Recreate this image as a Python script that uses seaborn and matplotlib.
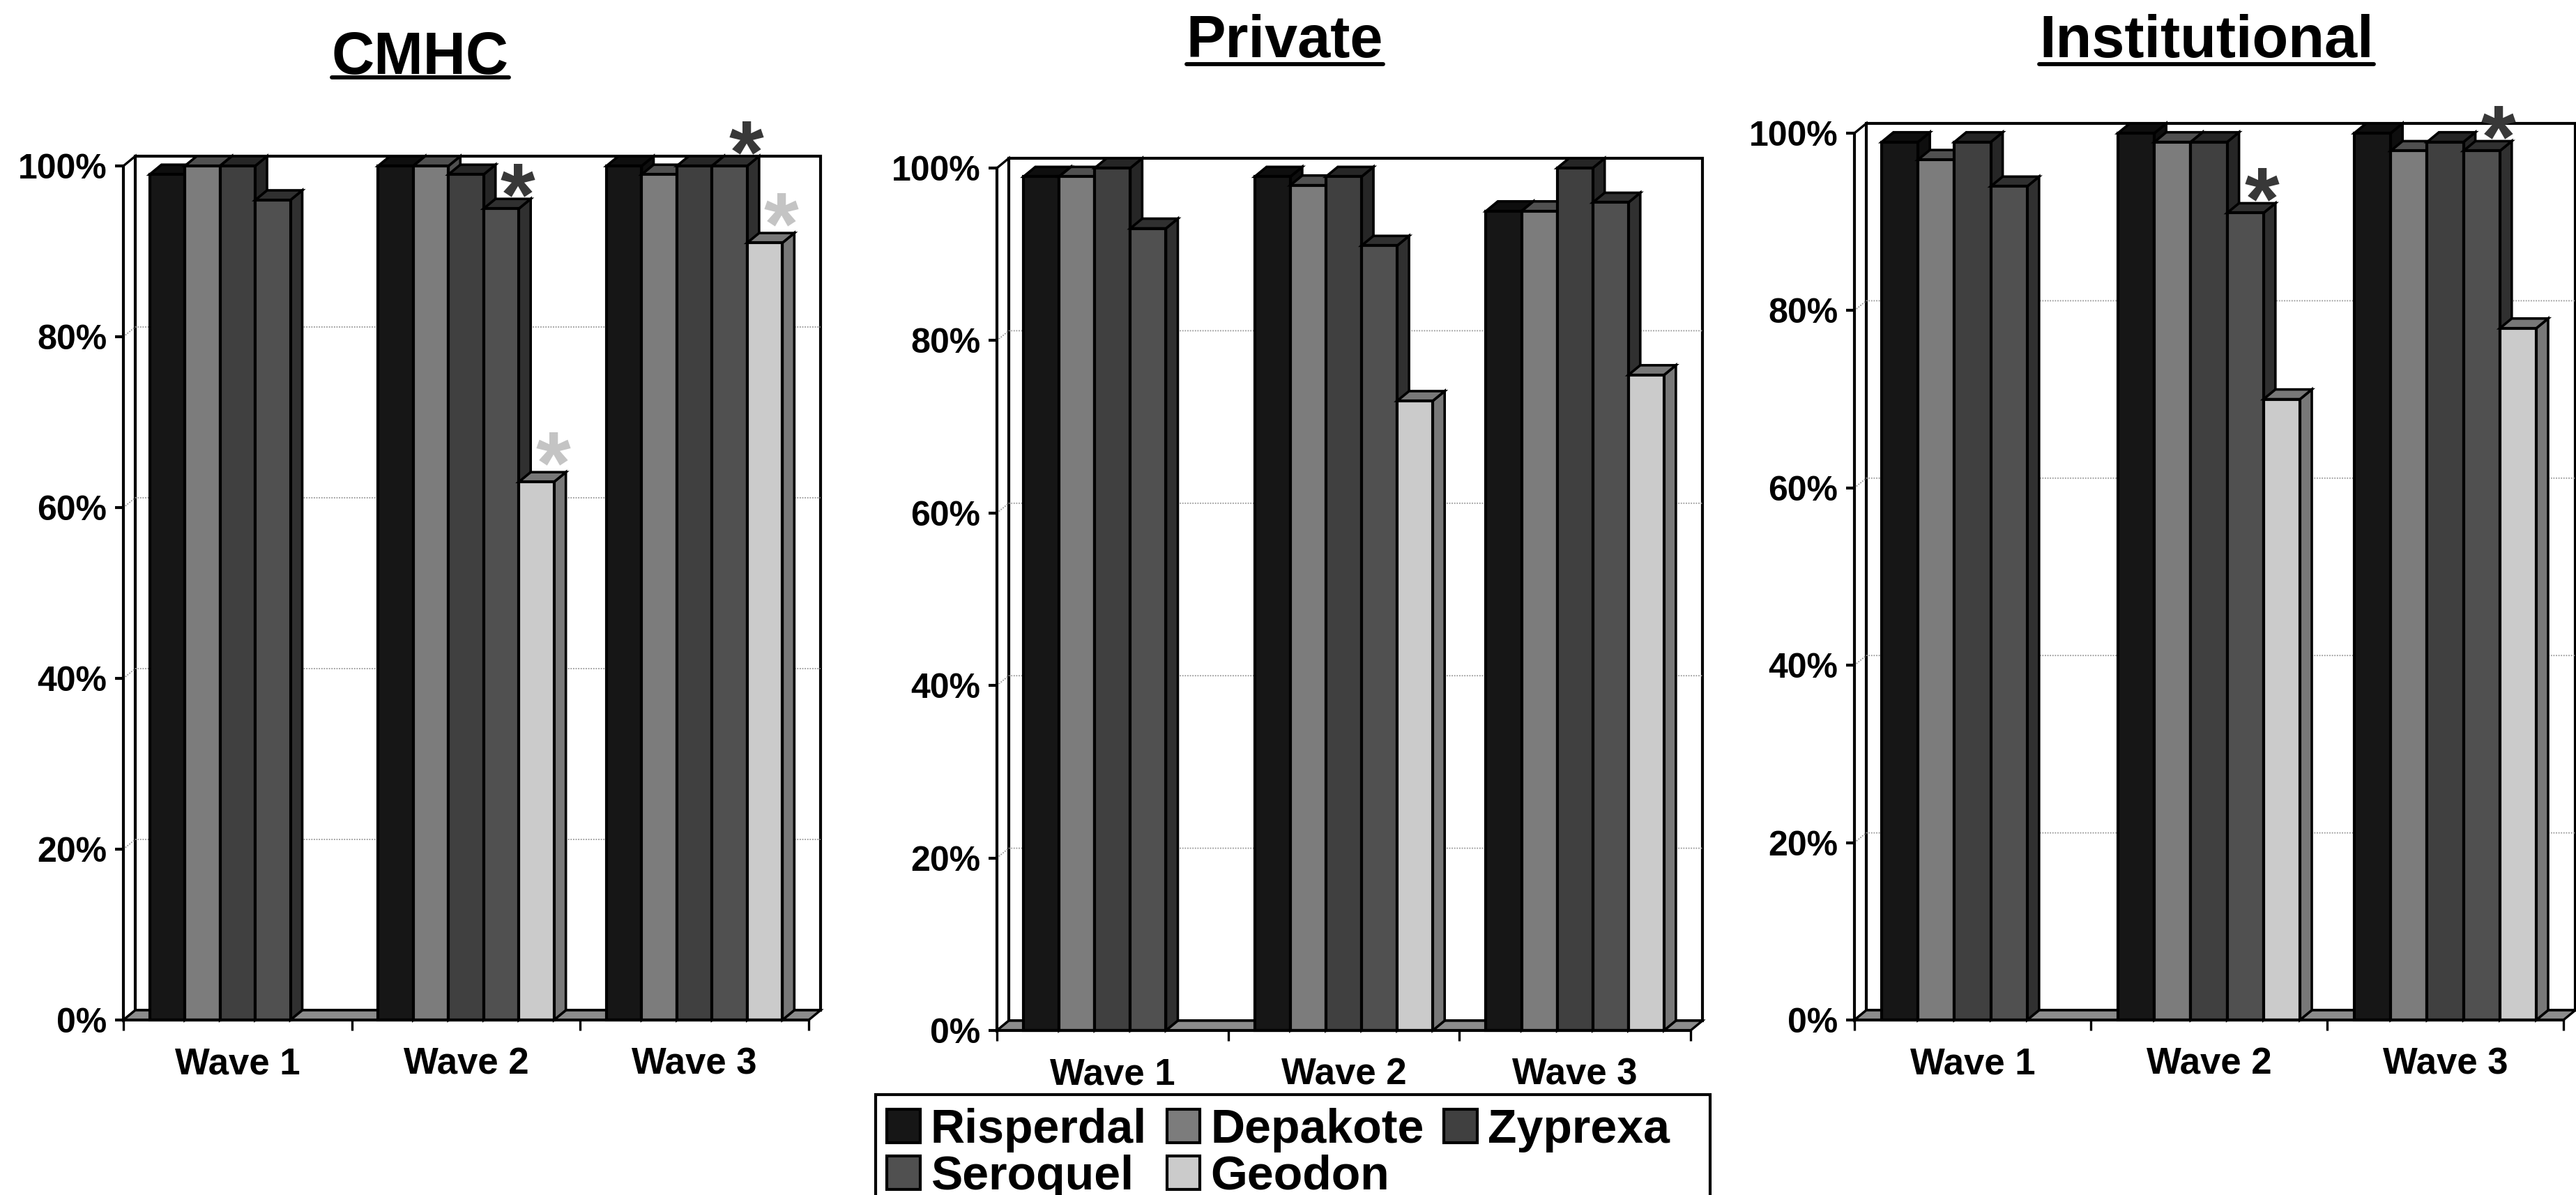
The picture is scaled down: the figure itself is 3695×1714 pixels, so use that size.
import matplotlib
matplotlib.use('Agg')
import numpy as np
import pandas as pd
import matplotlib.pyplot as plt
import seaborn as sns
from matplotlib.lines import Line2D
from matplotlib.patches import Polygon, Rectangle

# Values
waves = ['Wave 1', 'Wave 2', 'Wave 3']
drugs = ['Risperdal', 'Depakote', 'Zyprexa', 'Seroquel', 'Geodon']
panel_titles = ['CMHC', 'Private', 'Institutional']

cmhc_values = [[99, 100, 100, 96, np.nan], [100, 100, 99, 95, 63], [100, 99, 100, 100, 91]]
private_values = [[99, 99, 100, 93, np.nan], [99, 98, 99, 91, 73], [95, 95, 100, 96, 76]]
institutional_values = [[99, 97, 99, 94, np.nan], [100, 99, 99, 91, 70], [100, 98, 99, 98, 78]]

cmhc_stars = [('Wave 2', 'Seroquel'), ('Wave 2', 'Geodon'), ('Wave 3', 'Seroquel'), ('Wave 3', 'Geodon')]
private_stars = []
institutional_stars = [('Wave 2', 'Seroquel'), ('Wave 3', 'Seroquel')]

y_ticks = [0, 20, 40, 60, 80, 100]
y_tick_labels = ['0%', '20%', '40%', '60%', '80%', '100%']

front_colors = {'Risperdal': '#161616', 'Depakote': '#7c7c7c', 'Zyprexa': '#404040',
                'Seroquel': '#505050', 'Geodon': '#cbcbcb'}
side_colors = {'Risperdal': '#0e0e0e', 'Depakote': '#505050', 'Zyprexa': '#262626',
               'Seroquel': '#303030', 'Geodon': '#787878'}
star_colors = {'Seroquel': '#383838', 'Geodon': '#c4c4c4'}
star_lift = {'Seroquel': 7, 'Geodon': 12}

W, H = 3695, 1714
DX, DY = 17, 14  # depth of the fake 3d, pixels

sns.set_theme(style='ticks')
plt.rcParams['font.family'] = ['Liberation Sans', 'DejaVu Sans']
plt.rcParams['font.weight'] = 'bold'

fig = plt.figure(figsize=(W / 100, H / 100), dpi=100, facecolor='white')


def make_frame(values):
    rows = []
    for wave, row in zip(waves, values):
        for drug, v in zip(drugs, row):
            rows.append({'wave': wave, 'drug': drug, 'value': v})
    return pd.DataFrame(rows)


def draw_panel(values, stars, title, box, title_xy, underline_y):
    x0, x1, y100, y0 = box
    ax = fig.add_axes([x0 / W, 1 - y0 / H, (x1 - x0) / W, (y0 - y100) / H])
    ax.patch.set_visible(False)
    df = make_frame(values)
    sns.barplot(data=df, x='wave', y='value', hue='drug', order=waves, hue_order=drugs,
                palette=front_colors, saturation=1, width=0.77, errorbar=None,
                edgecolor='black', linewidth=3, ax=ax)
    ax.set_xlim(-0.5, 2.5)
    ax.set_ylim(0, 100)
    dx = DX * 3 / (x1 - x0)
    dy = DY * 100 / (y0 - y100)

    # walls and floor behind the bars
    ax.add_patch(Polygon([(-0.5, 0), (-0.5 + dx, dy), (-0.5 + dx, 100 + dy), (-0.5, 100)], closed=True,
                         fc='white', ec='black', lw=2.4, clip_on=False, zorder=0.5))
    ax.add_patch(Polygon([(-0.5 + dx, dy), (2.5 + dx, dy), (2.5 + dx, 100 + dy), (-0.5 + dx, 100 + dy)], closed=True,
                         fc='white', ec='black', lw=3, clip_on=False, zorder=0.6))
    ax.add_patch(Polygon([(-0.5, 0), (2.5, 0), (2.5 + dx, dy), (-0.5 + dx, dy)], closed=True,
                         fc='#8c8c8c', ec='black', lw=2.4, clip_on=False, zorder=0.7))
    for t in y_ticks[1:-1]:
        ax.plot([-0.5, -0.5 + dx, 2.5 + dx], [t, t + dy, t + dy], color='#999999', lw=1.3, ls=(0, (1, 1)),
                clip_on=False, zorder=0.8)

    # side and top faces, left to right so the next bar covers them
    bars = []
    for drug, cont in zip(drugs, ax.containers):
        for b in cont:
            if np.isfinite(b.get_height()) and b.get_height() > 0:
                bars.append((b.get_x(), drug, b))
    bars.sort(key=lambda r: r[0])
    for i, (left, drug, b) in enumerate(bars):
        z = 2 + i * 0.1
        r = left + b.get_width()
        h = b.get_height()
        ax.add_patch(Polygon([(r, 0), (r + dx, dy), (r + dx, h + dy), (r, h)], closed=True,
                             fc=side_colors[drug], ec='black', lw=2.6, clip_on=False, zorder=z))
        ax.add_patch(Polygon([(left, h), (left + dx, h + dy), (r + dx, h + dy), (r, h)], closed=True,
                             fc=side_colors[drug], ec='black', lw=2.6, clip_on=False, zorder=z + 0.01))
        b.set_zorder(z + 0.02)
        b.set_clip_on(False)

    # asterisks
    for wave, drug in stars:
        v = values[waves.index(wave)][drugs.index(drug)]
        cont = ax.containers[drugs.index(drug)]
        b = [p for p in cont if abs(p.get_x() + p.get_width() / 2 - waves.index(wave)) < 0.5][0]
        ax.annotate('*', xy=(b.get_x() + b.get_width() / 2, v), xytext=(17, star_lift[drug]),
                    textcoords='offset points', ha='center', va='center', fontsize=92, fontweight='bold',
                    color=star_colors[drug], annotation_clip=False, zorder=9)

    ax.set_xlabel('')
    ax.set_ylabel('')
    ax.set_yticks(y_ticks)
    ax.set_yticklabels(y_tick_labels, fontsize=36, fontweight='bold', color='black')
    ax.set_xticks(range(3))
    ax.set_xticklabels(waves, fontsize=38, fontweight='bold', color='black')
    ax.set_xticks([-0.5, 0.5, 1.5, 2.5], minor=True)
    ax.tick_params(axis='x', which='major', length=0, pad=28)
    ax.tick_params(axis='x', which='minor', length=11, width=2.4, color='black')
    ax.tick_params(axis='y', length=9, width=3, color='black', pad=8)
    sns.despine(ax=ax)
    for s in ['left', 'bottom']:
        ax.spines[s].set_linewidth(3)
        ax.spines[s].set_color('black')
        ax.spines[s].set_zorder(8)
    handles, labels = ax.get_legend_handles_labels()
    ax.get_legend().remove()

    # title with its underline
    t = fig.text(title_xy[0] / W, 1 - title_xy[1] / H, title, ha='center', va='center',
                 fontsize=61, fontweight='bold', color='black')
    fig.canvas.draw()
    ext = t.get_window_extent()
    fig.add_artist(Line2D([ext.x0 / W, ext.x1 / W], [1 - underline_y / H] * 2, color='black', lw=4.2))
    return handles, labels


handles, labels = draw_panel(cmhc_values, cmhc_stars, panel_titles[0], (177, 1160, 238, 1463), (603, 84), 111)
draw_panel(private_values, private_stars, panel_titles[1], (1430, 2425, 241, 1478), (1843, 60), 92)
draw_panel(institutional_values, institutional_stars, panel_titles[2], (2660, 3677, 191, 1463), (3165, 60), 92)

# legend box runs off the bottom edge of the picture, as in the original
fig.add_artist(Rectangle((1256 / W, -10 / H), 1197 / W, 154 / H, transform=fig.transFigure,
                         fc='white', ec='black', lw=3, clip_on=False))
order = [0, 3, 1, 4, 2]
leg = fig.legend([handles[i] for i in order], [labels[i] for i in order], ncol=3,
                 loc='lower left', bbox_to_anchor=(1256 / W, -22 / H), borderaxespad=0,
                 prop={'family': 'Liberation Sans', 'weight': 'bold', 'size': 49}, labelcolor='black',
                 frameon=False, handlelength=0.7, handleheight=0.7, handletextpad=0.22,
                 columnspacing=0.42, labelspacing=0.04, borderpad=0.24)

fig.savefig('out.png', dpi=100)
